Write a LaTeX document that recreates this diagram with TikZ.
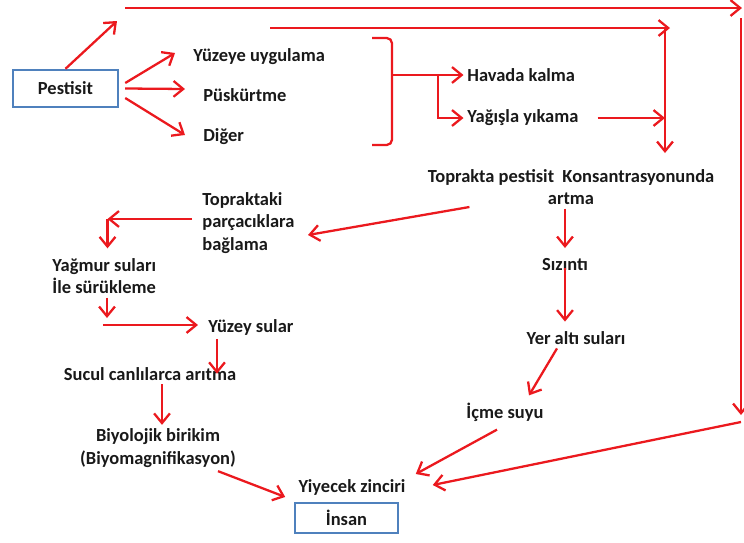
\documentclass[tikz,border=0pt]{standalone}
\usepackage{fontspec}
\setmainfont{Carlito}
\usetikzlibrary{arrows.meta}
\usetikzlibrary{calc}
\definecolor{arrowred}{RGB}{235,25,30}
\definecolor{boxblue}{RGB}{79,129,189}

\begin{document}
\begin{tikzpicture}[
	lbl/.style={font=\fontsize{10.5}{12.8}\selectfont\bfseries, inner sep=2pt, text=black!90},
	box/.style={lbl, draw=boxblue, line width=1.4pt},
	ln/.style={draw=arrowred, line width=1.3pt},
	arr/.style={ln, -{Straight Barb[length=5.5pt,width=9pt]}}]
	\useasboundingbox (0,0) rectangle (14.88,10.84);

	\node[box, minimum width=2.1cm, minimum height=0.74cm] (pestisit) at (1.31,9.07) {Pestisit};
	\node[box, minimum width=2.06cm, minimum height=0.6cm] (insan) at (6.93,0.48) {İnsan};

	\node[lbl, anchor=west] (yuzeye) at (3.79,9.70) {Yüzeye uygulama};
	\node[lbl, anchor=west] (puskurtme) at (3.99,8.94) {Püskürtme};
	\node[lbl, anchor=west] (diger) at (3.99,8.10) {Diğer};
	\node[lbl, anchor=west] (havada) at (9.27,9.34) {Havada kalma};
	\node[lbl, anchor=west] (yagisla) at (9.27,8.48) {Yağışla yıkama};
	\node[lbl, align=center] (toprakta) at (11.42,7.10) {Toprakta pestisit\ \ Konsantrasyonunda\\artma};
	\node[lbl] (sizinti) at (11.30,5.54) {Sızıntı};
	\node[lbl] (yeralti) at (11.52,4.08) {Yer altı suları};
	\node[lbl] (icme) at (10.10,2.60) {İçme suyu};
	\node[lbl, align=left, anchor=west] (topraktaki) at (3.97,6.38) {Topraktaki\\parçacıklara\\bağlama};
	\node[lbl, align=left, anchor=west] (yagmur) at (0.97,5.32) {Yağmur suları\\İle sürükleme};
	\node[lbl, anchor=west] (yuzeysular) at (4.09,4.30) {Yüzey sular};
	\node[lbl] (sucul) at (3.00,3.36) {Sucul canlılarca arıtma};
	\node[lbl, align=center] (biyolojik) at (3.16,1.88) {Biyolojik birikim\\(Biyomagnifikasyon)};
	\node[lbl] (yiyecek) at (7.04,1.10) {Yiyecek zinciri};

	\coordinate (up) at (2.34,10.42);
	\coordinate (topL) at (2.50,10.68);
	\coordinate (topR) at (14.84,10.68);
	\coordinate (rightT) at (14.82,10.48);
	\coordinate (rightB) at (14.82,2.54);
	\coordinate (rightF) at (14.82,2.40);
	\coordinate (secL) at (5.40,10.28);
	\coordinate (secR) at (13.40,10.28);
	\coordinate (downT) at (13.30,10.28);
	\coordinate (downB) at (13.30,7.78);
	\coordinate (brk) at (7.84,9.34);
	\coordinate (fork) at (8.76,9.34);
	\coordinate (bend1) at (2.15,6.46);
	\coordinate (bend2) at (2.14,4.34);

	\draw[arr] (pestisit.north) -- (up);
	\draw[arr] (topL) -- (topR);
	\draw[arr] (rightT) -- (rightB);
	\draw[arr] (rightF) -- ([xshift=0.47cm,yshift=0.04cm]yiyecek.east);
	\draw[arr] (secL) -- (secR);
	\draw[arr] (downT) -- (downB);
	\draw[arr] ([xshift=0.31cm]yagisla.east) -- (yagisla.east -| downT);

	\foreach \tgt/\sy/\ey in {yuzeye/0.11/0.08, puskurtme/0/0.12, diger/-0.19/0.04}
	{
		\draw[arr] ([xshift=0.12cm,yshift=\sy cm]pestisit.east) -- ([xshift=-0.29cm,yshift=\ey cm]\tgt.west);
	}

	\draw[ln, rounded corners=3pt] (7.44,10.08) -| (7.84,7.94) -- (7.44,7.94);
	\draw[arr] (brk) -- (havada.west);
	\draw[arr] (fork) |- (yagisla.west);

	\draw[arr] ([xshift=0.91cm,yshift=-0.40cm]toprakta.west) -- ([xshift=2.19cm,yshift=-0.24cm]topraktaki.west);
	\draw[arr] ([xshift=-0.13cm,yshift=0.08cm]topraktaki.west) -- (bend1);
	\draw[arr] (bend1) -- ($(bend1 |- yagmur.north)+(0,0.12)$);
	\draw[arr] (yagmur.south -| bend2) -- ([yshift=0.14cm]bend2);
	\draw[arr] ([xshift=-0.08cm]bend2) -- ($(yuzeysular.west |- bend2)+(-0.13,0)$);
	\draw[arr] ([xshift=0.25cm]yuzeysular.south west) -- ++(0,-0.70);
	\draw[arr] ([xshift=0.24cm]sucul.south) -- ($(sucul.south |- biyolojik.north)+(0.24,0)$);
	\draw[arr] ([xshift=1.2cm]biyolojik.south) -- ([xshift=-0.19cm,yshift=-0.20cm]yiyecek.west);

	\draw[arr] (toprakta.south -| sizinti) -- ([yshift=0.14cm]sizinti.north);
	\draw[arr] ([yshift=0.14cm]sizinti.south) -- ($(sizinti.south |- yeralti.north)+(0,0.12)$);
	\draw[arr] ([xshift=-0.38cm]yeralti.south) -- ([xshift=0.48cm,yshift=0.07cm]icme.north);
	\draw[arr] ([xshift=-0.16cm,yshift=-0.09cm]icme.south) -- ([xshift=0.13cm,yshift=0.26cm]yiyecek.east);
\end{tikzpicture}
\end{document}
